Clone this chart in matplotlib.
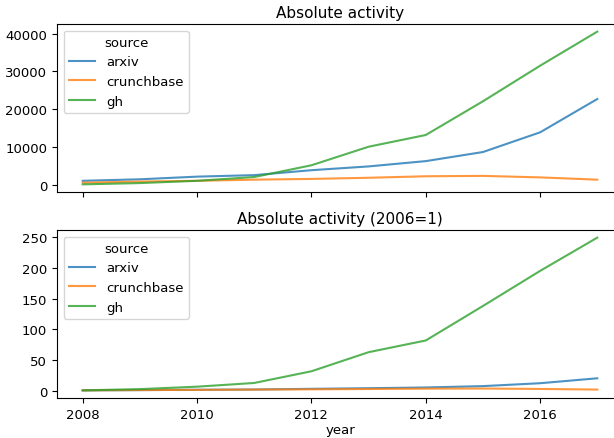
import numpy as np
import matplotlib
matplotlib.use('Agg')
from matplotlib import pyplot as plt

years = [2008, 2009, 2010, 2011, 2012, 2013, 2014, 2015, 2016, 2017]
sources = ['arxiv', 'crunchbase', 'gh']

# absolute counts
arxiv_abs = [1100, 1500, 2200, 2600, 3900, 4900, 6300, 8700, 13900, 22700]
crunch_abs = [600, 900, 1100, 1400, 1600, 1900, 2300, 2400, 2000, 1400]
gh_abs = [160, 500, 1100, 2100, 5200, 10100, 13200, 22100, 31500, 40500]

# indexed values (first year = 1)
arxiv_rel = [1, 1.4, 2.0, 2.4, 3.5, 4.5, 5.7, 7.9, 12.6, 20.6]
crunch_rel = [1, 1.5, 1.8, 2.3, 2.7, 3.2, 3.8, 4.0, 3.3, 2.3]
gh_rel = [1, 3, 7, 13, 32, 63, 82, 138, 195, 249]

colors = ['#1f77b4', '#ff7f0e', '#2ca02c']

fig = plt.figure(figsize=(6.14, 4.39), dpi=100)
W, H = 614.0, 439.0
# right edge of the axes lies past the picture (cropped screenshot)
ax1 = fig.add_axes([57 / W, 1 - 193 / H, (623 - 57) / W, (193 - 25) / H])
ax2 = fig.add_axes([57 / W, 1 - 399 / H, (623 - 57) / W, (399 - 231) / H], sharex=ax1)

for ax, series, title in [
    (ax1, [arxiv_abs, crunch_abs, gh_abs], 'Absolute activity'),
    (ax2, [arxiv_rel, crunch_rel, gh_rel], 'Absolute activity (2006=1)'),
]:
  for name, vals, c in zip(sources, series, colors):
    ax.plot(years, vals, color=c, lw=1.5, alpha=0.8, label=name)
  ax.set_title(title, fontsize=11, pad=5)
  ax.legend(title='source', loc='upper left', fontsize=9.5, title_fontsize=9.5)
  ax.tick_params(labelsize=9.5)

ax1.set_yticks([0, 10000, 20000, 30000, 40000])
ax2.set_yticks([0, 50, 100, 150, 200, 250])
ax2.set_xticks([2008, 2010, 2012, 2014, 2016])
plt.setp(ax1.get_xticklabels(), visible=False)
ax2.set_xlabel('year', fontsize=9.5, labelpad=2)

fig.savefig('out.png', dpi=100)
